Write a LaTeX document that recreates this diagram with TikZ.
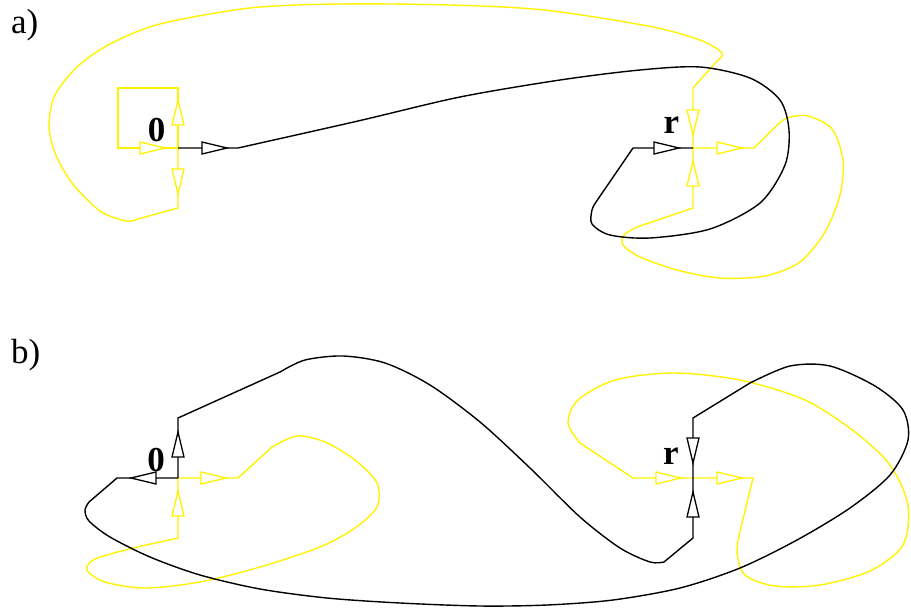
\documentclass[tikz,border=0pt]{standalone}
\usepackage{fontspec}
\setmainfont{Liberation Serif}
\begin{document}
\begin{tikzpicture}[x=1pt,y=-1pt,
  bl/.style={draw=black,line width=1.4pt},
  yl/.style={draw=yellow,line width=1.4pt},
  oarr/.pic={\path[pic actions,fill=white,line join=miter] (0,0) -- (-25,6) -- (-25,-6) -- cycle;},
  barr/.style={draw=black,line width=1.3pt},
  yarr/.style={draw=yellow,line width=1.3pt},
  lab/.style={anchor=base,font=\fontsize{35}{40}\selectfont\bfseries,inner sep=0pt},
  plab/.style={anchor=base west,font=\fontsize{35}{40}\selectfont,inner sep=0pt}]
\useasboundingbox (0,0) rectangle (911,611);
\fill[white] (0,0) rectangle (911,611);
% ---------------- panel a ----------------
\coordinate (v0a) at (178,148);
\coordinate (vra) at (693,148);
\draw[yl] (v0a) -- (178,88) -- (118,88) -- (118,148) -- (v0a);
\draw[yl] (v0a) -- (178,208) -- plot[smooth] coordinates {(138,219) (126,221) (100,211) (72,183) (55,153) (49,125) (55,95) (77,67) (110,44) (160,24) (250,8) (340,4) (450,5) (544,10) (648,26) (700,40) (722,53) (718,60)} -- (693,88) -- (vra);
\draw[yl] (vra) -- (693,208) -- plot[smooth] coordinates {(637,227) (624,235) (623,245) (640,257) (677,270) (720,278) (765,276) (800,262) (825,232) (840,195) (843,160) (832,129) (808,116) (787,118) (775,127)} -- (754,148) -- (vra);
\draw[bl] (v0a) -- plot[smooth] coordinates {(238,148) (358,121) (460,97) (560,80) (640,70) (700,67) (750,78) (780,100) (789,130) (785,165) (760,203) (710,229) (650,238) (610,235) (592,224) (592,210) (596,202)} -- (633,148) -- (vra);
\pic[yarr,rotate=90] at (178,100) {oarr};
\pic[yarr,rotate=-90] at (178,194) {oarr};
\pic[yarr] at (165,148) {oarr};
\pic[barr] at (227,148) {oarr};
\pic[yarr,rotate=-90] at (693,135) {oarr};
\pic[yarr,rotate=90] at (693,161) {oarr};
\pic[yarr] at (742,148) {oarr};
\pic[barr] at (679,148) {oarr};
\node[lab] (l0a) at (156.5,141) {0};
\node[lab] (lra) at (671.5,133) {r};
\node[plab] (pa) at (11,33) {a)};
% ---------------- panel b ----------------
\coordinate (v0b) at (178,478);
\coordinate (vrb) at (693,478);
\draw[yl] (v0b) -- (238,478) -- plot[smooth] coordinates {(272,447) (297,436) (325,442) (355,460) (377,483) (377,507) (355,528) (320,547) (260,567) (200,582) (145,588) (105,582) (87,570) (95,559) (133,548)} -- (178,538) -- (v0b);
\draw[yl] (vrb) -- (753,478) -- plot[smooth] coordinates {(744,515) (737,550) (745,575) (775,586) (820,585) (870,571) (903,545) (908,505) (890,465) (855,432) (805,400) (740,380) (673,373) (615,380) (578,400) (568,423) (580,443)} -- (633,478) -- (vrb);
\draw[bl] (v0b) -- (178,418) -- plot[smooth] coordinates {(280,372) (305,360) (343,356) (385,363) (430,385) (480,422) (530,468) (580,517) (620,548) (650,562) (664,562)} -- (693,538) -- (vrb);
\draw[bl] (vrb) -- (693,418) -- plot[smooth] coordinates {(750,383) (790,366) (830,366) (875,386) (903,410) (908,440) (890,475) (850,508) (797,540) (740,568) (680,588) (613,600) (547,605) (480,606) (400,603) (327,598) (260,589) (200,575) (150,557) (110,537) (89,521) (85,510) (89,502)} -- (117,478) -- (v0b);
\pic[barr,rotate=90] at (178,432) {oarr};
\pic[barr,rotate=180] at (131,478) {oarr};
\pic[yarr] at (226,478) {oarr};
\pic[yarr,rotate=90] at (178,491) {oarr};
\pic[barr,rotate=-90] at (693,463) {oarr};
\pic[barr,rotate=90] at (693,492) {oarr};
\pic[yarr] at (681,478) {oarr};
\pic[yarr] at (742,478) {oarr};
\node[lab] (l0b) at (156,471) {0};
\node[lab] (lrb) at (671,464) {r};
\node[plab] (pb) at (11,363) {b)};
\end{tikzpicture}
\end{document}
